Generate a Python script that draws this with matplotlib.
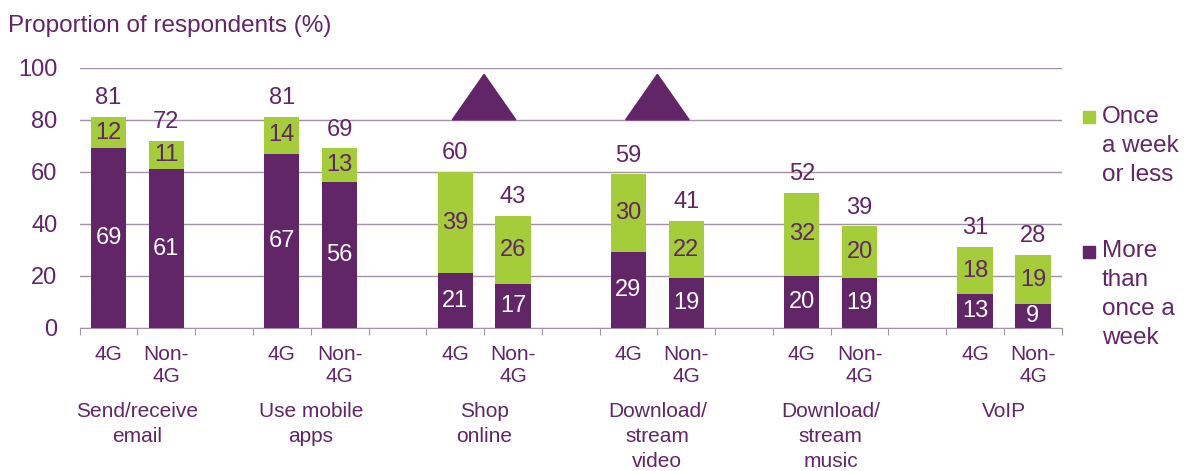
import numpy as np
import matplotlib.pyplot as plt
from matplotlib.patches import Polygon, Rectangle

plt.rcParams['font.family'] = ['Liberation Sans', 'DejaVu Sans']

# Data
groups = ['Send/receive\nemail', 'Use mobile\napps', 'Shop\nonline',
          'Download/\nstream\nvideo', 'Download/\nstream\nmusic', 'VoIP']
more_4g = [69, 67, 21, 29, 20, 13]
once_4g = [12, 14, 39, 30, 32, 18]
more_non = [61, 56, 17, 19, 19, 9]
once_non = [11, 13, 26, 22, 20, 19]
sub_labels = ['4G', 'Non-\n4G']
significant = [2, 3]  # groups marked with a triangle

PURPLE = '#622567'
GREEN = '#a4cd39'
TEXT = '#622567'
GRID = '#a391a8'

fig = plt.figure(figsize=(11.89, 4.71), dpi=100)
ax = fig.add_axes([0.067, 0.304, 0.826, 0.552])

bw = 0.61
fs_num = 17   # numbers
fs_txt = 15   # category text
for k in range(len(groups)):
    for j, (more, once) in enumerate([(more_4g, once_4g), (more_non, once_non)]):
        x = 3 * k + 0.5 + j
        m, o = more[k], once[k]
        ax.bar(x, m, bw, color=PURPLE, zorder=3)
        ax.bar(x, o, bw, bottom=m, color=GREEN, zorder=3)
        ax.text(x, m / 2, str(m), ha='center', va='center', color='white', fontsize=fs_num, zorder=4)
        ax.text(x, m + o / 2, str(o), ha='center', va='center', color=TEXT, fontsize=fs_num, zorder=4)
        ax.text(x, m + o + 3.0, str(m + o), ha='center', va='bottom', color=TEXT, fontsize=fs_num, zorder=4)
        ax.text(x, -6.7, sub_labels[j], ha='center', va='top', color=TEXT, fontsize=fs_txt,
                linespacing=1.2)
    ax.text(3 * k + 1, -28.7, groups[k], ha='center', va='top', color=TEXT, fontsize=fs_txt,
            linespacing=1.4)

for k in significant:
    c = 3 * k + 1
    tri = Polygon([[c - 0.55, 80], [c + 0.55, 80], [c, 97.5]], closed=True,
                  color=PURPLE, zorder=5, clip_on=False)
    ax.add_patch(tri)

ax.set_xlim(0, 17)
ax.set_ylim(0, 100)
ax.set_yticks(np.arange(0, 101, 20))
ax.set_xticks(np.arange(0, 18, 1))
ax.set_xticklabels([])
ax.tick_params(axis='y', length=0, labelsize=fs_num, labelcolor=TEXT, pad=16)
ax.tick_params(axis='x', length=5, color=GRID, direction='out')
ax.grid(axis='y', color=GRID, linewidth=1, zorder=0)
for s in ['top', 'right', 'left']:
    ax.spines[s].set_visible(False)
ax.spines['bottom'].set_color(GRID)

fig.text(0.007, 0.945, 'Proportion of respondents (%)', color=TEXT, fontsize=17.5, va='center')

# legend
fig.add_artist(Rectangle((1083 / 1189, 1 - 123 / 471), 12 / 1189, 12 / 471,
                         transform=fig.transFigure, color=GREEN))
fig.text(1102 / 1189, 1 - 106 / 471, 'Once\na week\nor less', color=TEXT, fontsize=17.5,
         va='top', linespacing=1.42)
fig.add_artist(Rectangle((1083 / 1189, 1 - 258 / 471), 12 / 1189, 12 / 471,
                         transform=fig.transFigure, color=PURPLE))
fig.text(1102 / 1189, 1 - 240 / 471, 'More\nthan\nonce a\nweek', color=TEXT, fontsize=17.5,
         va='top', linespacing=1.42)

fig.savefig('out.png', dpi=100)
